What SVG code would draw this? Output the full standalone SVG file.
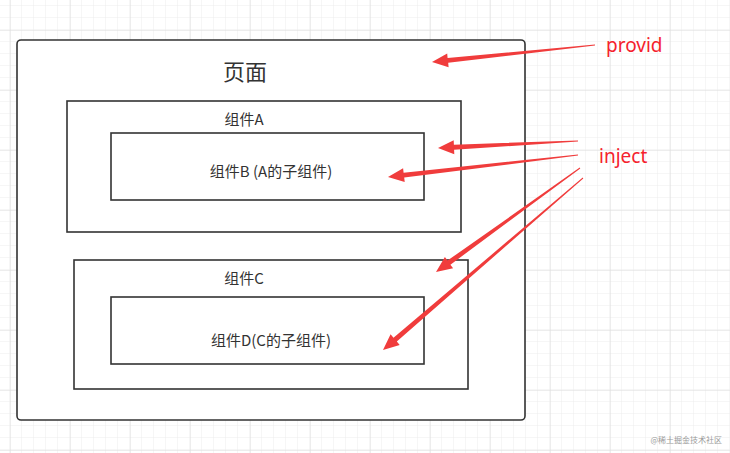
<svg xmlns="http://www.w3.org/2000/svg" width="730" height="453" viewBox="0 0 730 453">
<defs>
<pattern id="minor" width="12" height="12" patternUnits="userSpaceOnUse" x="10" y="6"><path d="M12 0V12M0 12H12" fill="none" stroke="#ececec" stroke-width="1"/></pattern>
<pattern id="major" width="60" height="60" patternUnits="userSpaceOnUse" x="10" y="30"><path d="M0 0V60M0 0H60" fill="none" stroke="#dcdcdc" stroke-width="1"/></pattern>
</defs>
<style>
.box{fill:#fff;stroke:#333;stroke-width:1.6}
.t{font-family:"Noto Sans CJK SC","Microsoft YaHei",sans-serif;fill:#333;text-anchor:middle}
.lbl{font-family:"Noto Sans","Open Sans",sans-serif;fill:#f5222d;font-size:19px}
.arr{fill:#f03c3c}
</style>
<rect width="730" height="453" fill="#fff"/>
<rect width="730" height="453" fill="url(#minor)"/>
<rect width="730" height="453" fill="url(#major)"/>
<g id="page"><rect class="box" x="17" y="40" width="508" height="380" rx="4"/><text class="t" x="245" y="80" font-size="22">页面</text></g>
<g id="compA"><rect class="box" x="67" y="101" width="394" height="131"/><text class="t" x="244" y="125" font-size="15">组件A</text></g>
<g id="compB"><rect class="box" x="111" y="133" width="313" height="67"/><text class="t" x="271" y="177" font-size="15">组件B (A的子组件)</text></g>
<g id="compC"><rect class="box" x="74" y="260" width="394" height="129"/><text class="t" x="244" y="284" font-size="15">组件C</text></g>
<g id="compD"><rect class="box" x="111" y="297" width="313" height="67"/><text class="t" x="271" y="346" font-size="15">组件D(C的子组件)</text></g>
<g id="labels"><text class="lbl" x="606" y="52">provid</text><text class="lbl" x="599" y="163">inject</text></g>
<g id="connectors">
<polygon class="arr" points="595,45.5 448.2,62.8 448.6,67.3 432,62 447.2,53.4 447.6,57.9 595,44.5"/>
<polygon class="arr" points="578,141.5 454.1,149.7 454.3,154.2 438,148 453.7,140.2 453.9,144.7 578,140.5"/>
<polygon class="arr" points="578,155.5 404.2,177.6 404.7,182.1 388,177 403.1,168.2 403.6,172.7 578,154.5"/>
<polygon class="arr" points="580.3,168.4 450.4,264.7 453.1,268.3 436,272 444.9,256.9 447.5,260.6 579.7,167.6"/>
<polygon class="arr" points="583.3,178.4 396.8,341.5 399.7,344.9 383,350 390.6,334.3 393.5,337.7 582.7,177.6"/>
</g>
<text x="722" y="443" font-family="Noto Sans CJK SC,sans-serif" font-size="8" fill="#999" text-anchor="end">@稀土掘金技术社区</text>
</svg>
